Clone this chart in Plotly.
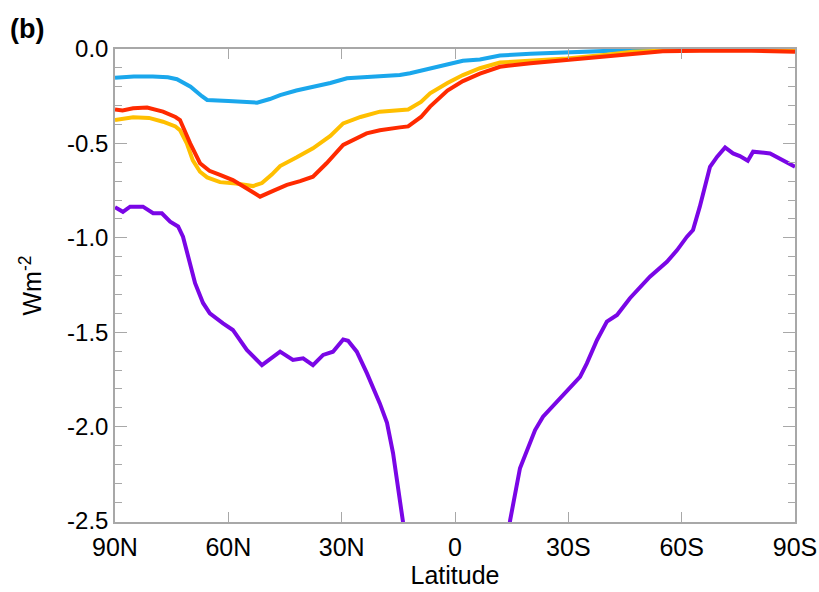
import plotly.graph_objects as go

# ---------------- data ----------------
blue_lat = [90, 85, 80, 76, 73.6, 70, 67, 65.6, 60, 55, 52.4, 49, 46.3, 42, 37.6, 33, 28.6, 22.5,
            14.6, 11.9, 9.3, 5, 2.1, -2.1, -6.6, -11.9, -20, -29.6, -40, -47, -55, -65, -75, -90]
blue_val = [-0.152, -0.145, -0.145, -0.15, -0.16, -0.2, -0.25, -0.27, -0.275, -0.28, -0.284, -0.265,
            -0.244, -0.22, -0.203, -0.18, -0.155, -0.146, -0.138, -0.128, -0.115, -0.095, -0.078,
            -0.062, -0.055, -0.035, -0.025, -0.02, -0.01, 0.0, 0.002, 0.003, 0.003, 0.002]

yellow_lat = [90, 88, 85.2, 81, 77.3, 74, 72.8, 71, 69.4, 67.5, 65.6, 62.2, 58, 53.5, 51.1, 48.5,
              46.3, 42, 37.6, 33, 29.6, 25, 19.9, 12.4, 9, 6.6, 2, -2.1, -6.6, -11.9, -20, -29.6,
              -40, -47, -60, -75, -90]
yellow_val = [-0.376, -0.37, -0.362, -0.365, -0.385, -0.41, -0.43, -0.5, -0.59, -0.65, -0.68,
              -0.705, -0.712, -0.726, -0.71, -0.665, -0.62, -0.575, -0.526, -0.46, -0.394, -0.36,
              -0.332, -0.32, -0.28, -0.235, -0.18, -0.138, -0.102, -0.072, -0.062, -0.05, -0.03,
              -0.014, -0.006, -0.004, -0.005]

red_lat = [90, 88, 85.2, 81.5, 77.3, 74, 72.8, 70.1, 67.5, 65, 62.2, 58.8, 55, 51.6, 48, 44.5, 41,
           37.6, 34, 29.6, 23.4, 19.9, 14.6, 12.4, 9, 6.6, 2, -2.1, -6.6, -11.9, -20, -29.6, -40,
           -47, -55, -64.8, -75, -90]
red_val = [-0.32, -0.325, -0.314, -0.31, -0.332, -0.36, -0.376, -0.5, -0.605, -0.645, -0.667,
           -0.694, -0.74, -0.782, -0.75, -0.72, -0.7, -0.676, -0.605, -0.508, -0.447, -0.43,
           -0.415, -0.41, -0.36, -0.305, -0.22, -0.17, -0.13, -0.094, -0.075, -0.058, -0.035,
           -0.023, -0.012, -0.009, -0.008, -0.014]

purple_lat = [90, 87.9, 86, 82.6, 79.9, 77.6, 75.4, 73.3, 72, 70.1, 68.8, 66.7, 64.9, 61.4, 58.8,
              55.1, 51.1, 46.3, 42.9, 40.2, 37.6, 34.9, 32.3, 29.6, 28.3, 26, 23.3, 19.9, 18, 16.4,
              15.1, 13.8, 11, 6, 0, -6, -11, -14.6, -17.2, -21.2, -23.3, -27, -29.6, -33.1, -34.9,
              -37.6, -40.2, -42.9, -46.3, -51.6, -56.1, -58.8, -61.4, -63, -64.8, -67.5, -69.4,
              -71.5, -73.6, -75.4, -77.5, -78.9, -83.4, -86.8, -90]
purple_val = [-0.838, -0.862, -0.835, -0.835, -0.87, -0.87, -0.915, -0.94, -0.994, -1.13, -1.24,
              -1.345, -1.40, -1.453, -1.488, -1.594, -1.674, -1.603, -1.647, -1.638, -1.674, -1.62,
              -1.603, -1.538, -1.545, -1.603, -1.718, -1.877, -1.98, -2.14, -2.318, -2.50, -3.0,
              -3.6, -3.9, -3.6, -3.0, -2.495, -2.22, -2.018, -1.947, -1.868, -1.815, -1.736, -1.665,
              -1.541, -1.444, -1.409, -1.32, -1.206, -1.127, -1.065, -0.994, -0.959, -0.835, -0.624,
              -0.57, -0.521, -0.553, -0.567, -0.592, -0.544, -0.553, -0.588, -0.624]

x_tickvals = [90, 60, 30, 0, -30, -60, -90]
x_ticktext = ["90N", "60N", "30N", "0", "30S", "60S", "90S"]
y_tickvals = [0.0, -0.5, -1.0, -1.5, -2.0, -2.5]
y_ticktext = ["0.0", "-0.5", "-1.0", "-1.5", "-2.0", "-2.5"]

# ---------------- figure ----------------
FONT = "Liberation Sans, Arial, Helvetica, sans-serif"
AXC = "#a8a8a8"
W, H = 819, 592
ML, MR, MT, MB = 115, 24, 49, 70
PW, PH = W - ML - MR, H - MT - MB

fig = go.Figure()
series = [
    (purple_lat, purple_val, "#7a06e6"),
    (blue_lat, blue_val, "#1aa7ec"),
    (yellow_lat, yellow_val, "#ffbf00"),
    (red_lat, red_val, "#ff2a00"),
]
for lat, val, col in series:
    fig.add_trace(go.Scatter(x=lat, y=val, mode="lines",
                             line=dict(color=col, width=4),
                             showlegend=False, hoverinfo="skip"))

fig.update_layout(
    width=W, height=H,
    margin=dict(l=ML, r=MR, t=MT, b=MB, autoexpand=False),
    paper_bgcolor="white", plot_bgcolor="white",
    font=dict(family=FONT, size=25, color="black"),
    xaxis=dict(
        range=[90, -90], tickvals=x_tickvals, ticktext=x_ticktext, automargin=False,
        showgrid=False, zeroline=False, showline=True, linecolor=AXC, linewidth=1.5,
        mirror="ticks", ticks="inside", ticklen=10, tickcolor=AXC, tickwidth=1.2,
        tickfont=dict(size=25), ticklabelstandoff=2,
        title=dict(text="Latitude", font=dict(size=25), standoff=0),
    ),
    yaxis=dict(
        range=[-2.505, 0.0], tickvals=y_tickvals, ticktext=y_ticktext, automargin=False,
        showgrid=False, zeroline=False, showline=True, linecolor=AXC, linewidth=1.5,
        mirror="ticks", ticks="inside", ticklen=12, tickcolor=AXC, tickwidth=1.2,
        minor=dict(dtick=0.1, tick0=0, ticks="inside", ticklen=7, tickcolor=AXC, tickwidth=1.2),
        tickfont=dict(size=24), ticklabelstandoff=0,
        title=dict(text="Wm<sup>-2</sup>", font=dict(size=25), standoff=18),
    ),
    annotations=[dict(text="<b>(b)</b>", xref="paper", yref="paper",
                      x=(8 - ML) / PW, y=1 + (MT - 29) / PH,
                      xanchor="left", yanchor="middle",
                      showarrow=False, font=dict(size=27))],
)

fig.write_html("out.html")
